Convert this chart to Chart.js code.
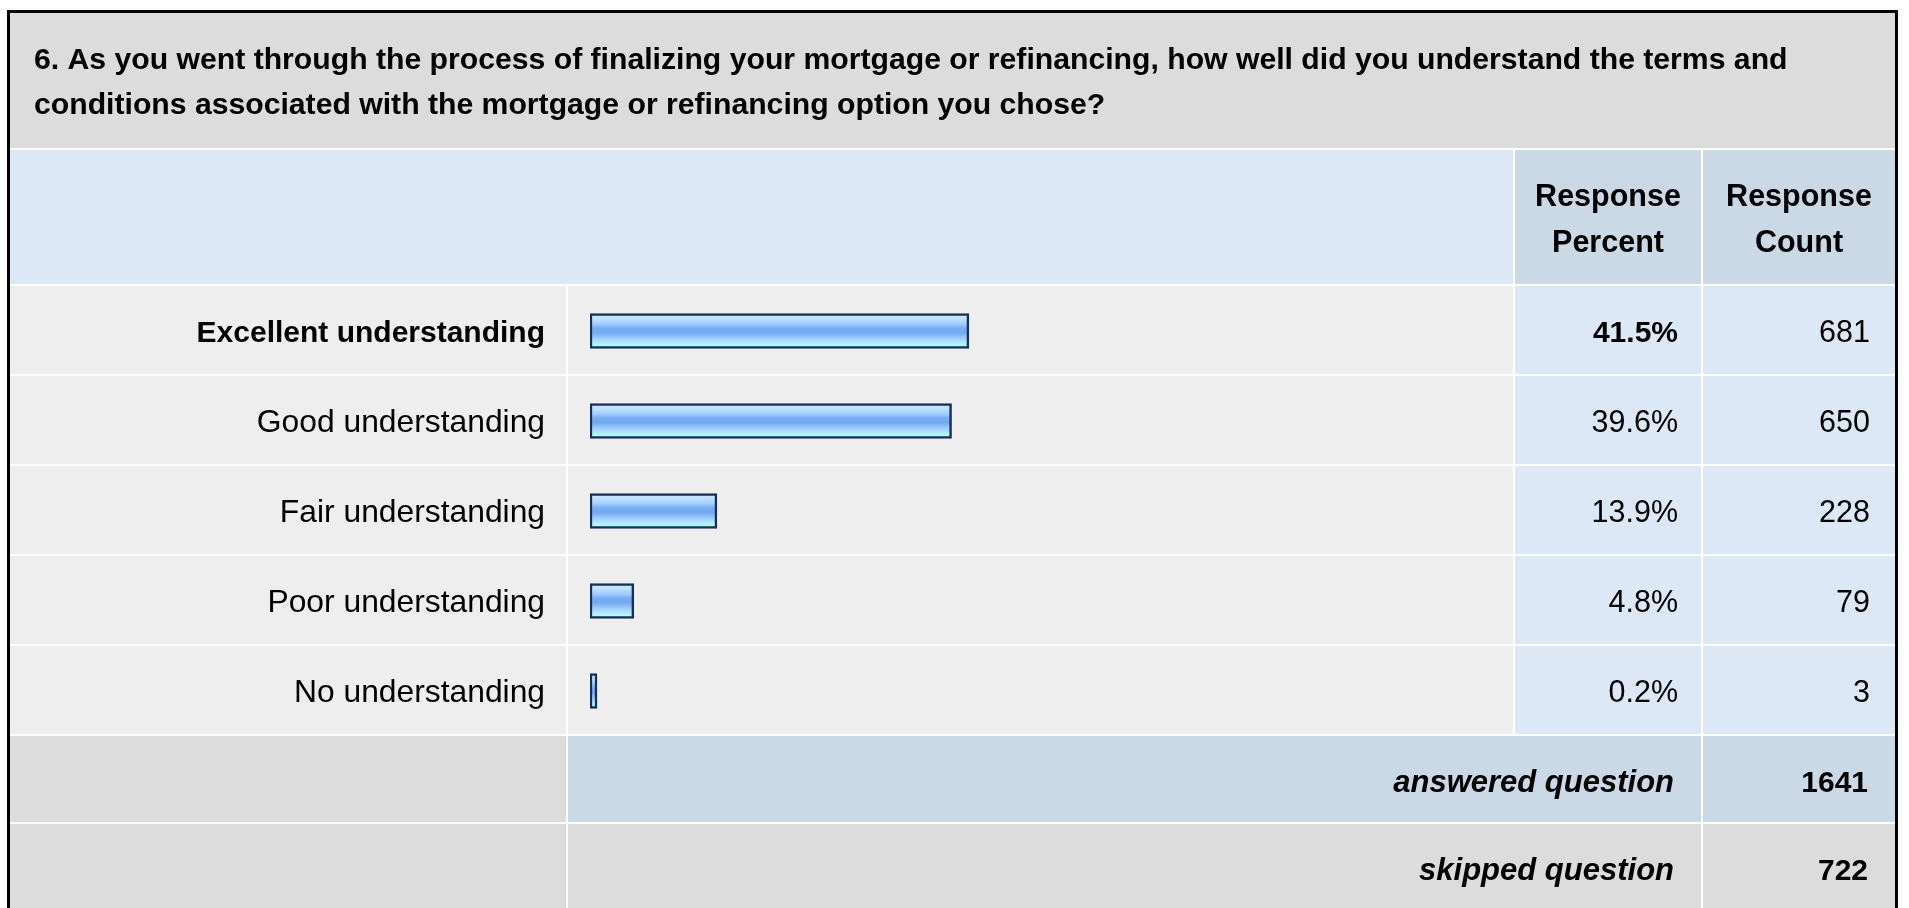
<!DOCTYPE html>
<html>
<head>
<meta charset="utf-8">
<script src="https://cdn.jsdelivr.net/npm/chart.js@4"></script>
<style>
  html, body { margin: 0; padding: 0; background: #ffffff; }
  canvas { display: block; }
</style>
</head>
<body>
<canvas id="c" width="1909" height="908"></canvas>
<script>
// ---- data ----
const titleLines = [
  '6. As you went through the process of finalizing your mortgage or refinancing, how well did you understand the terms and',
  'conditions associated with the mortgage or refinancing option you chose?'
];
const headerPercent = ['Response', 'Percent'];
const headerCount = ['Response', 'Count'];
const categories = ['Excellent understanding', 'Good understanding', 'Fair understanding', 'Poor understanding', 'No understanding'];
const percents = [41.5, 39.6, 13.9, 4.8, 0.2];
const counts = [681, 650, 228, 79, 3];
const answeredLabel = 'answered question';
const skippedLabel = 'skipped question';
const answeredCount = 1641;
const skippedCount = 722;

const FONT = '"Liberation Sans", Arial, Helvetica, sans-serif';

function txt(ctx, s, x, y, font, align) {
  ctx.save();
  ctx.font = font;
  ctx.textAlign = align;
  ctx.textBaseline = 'alphabetic';
  ctx.fillStyle = '#000000';
  ctx.fillText(s, x, y);
  ctx.restore();
}

const ROW_TOP = 286, ROW_STEP = 90, ROW_H = 88;
const X_L = 10, X_LBL_END = 566, X_BAR = 568, X_PCT = 1515, X_CNT = 1703, X_R = 1895;

const tablePlugin = {
  id: 'tablePlugin',
  beforeDraw(chart) {
    const ctx = chart.ctx;
    ctx.save();
    ctx.fillStyle = '#ffffff';
    ctx.fillRect(0, 0, chart.width, chart.height);
    // title band
    ctx.fillStyle = '#dcdcdc';
    ctx.fillRect(X_L, 13, X_R - X_L, 135);
    // header band
    ctx.fillStyle = '#dce8f5';
    ctx.fillRect(X_L, 150, X_PCT - 2 - X_L, 134);
    ctx.fillStyle = '#cbd8e6';
    ctx.fillRect(X_PCT, 150, X_CNT - 2 - X_PCT, 134);
    ctx.fillRect(X_CNT, 150, X_R - X_CNT, 134);
    // response rows
    for (let i = 0; i < categories.length; i++) {
      const y = ROW_TOP + ROW_STEP * i;
      ctx.fillStyle = '#eeeeee';
      ctx.fillRect(X_L, y, X_LBL_END - X_L, ROW_H);
      ctx.fillRect(X_BAR, y, X_PCT - 2 - X_BAR, ROW_H);
      ctx.fillStyle = '#dce8f5';
      ctx.fillRect(X_PCT, y, X_CNT - 2 - X_PCT, ROW_H);
      ctx.fillRect(X_CNT, y, X_R - X_CNT, ROW_H);
    }
    // answered row
    let y = ROW_TOP + ROW_STEP * categories.length;
    ctx.fillStyle = '#dcdcdc';
    ctx.fillRect(X_L, y, X_LBL_END - X_L, ROW_H - 2);
    ctx.fillStyle = '#cbd8e6';
    ctx.fillRect(X_BAR, y, X_CNT - 2 - X_BAR, ROW_H - 2);
    ctx.fillRect(X_CNT, y, X_R - X_CNT, ROW_H - 2);
    // skipped row
    y += ROW_STEP - 2;
    ctx.fillStyle = '#dcdcdc';
    ctx.fillRect(X_L, y, X_LBL_END - X_L, 908 - y);
    ctx.fillRect(X_BAR, y, X_CNT - 2 - X_BAR, 908 - y);
    ctx.fillRect(X_CNT, y, X_R - X_CNT, 908 - y);
    // outer border
    ctx.fillStyle = '#000000';
    ctx.fillRect(7, 10, 3, 898);
    ctx.fillRect(7, 10, X_R + 3 - 7, 3);
    ctx.fillRect(X_R, 10, 3, 898);
    ctx.restore();
  },
  afterDraw(chart) {
    const ctx = chart.ctx;
    // title: font size chosen so the first line spans the same width as the original
    ctx.save();
    ctx.font = 'bold 100px ' + FONT;
    const tSize = 100 * 1754 / ctx.measureText(titleLines[0]).width;
    ctx.restore();
    const tf = 'bold ' + tSize.toFixed(2) + 'px ' + FONT;
    txt(ctx, titleLines[0], 34, 69, tf, 'left');
    txt(ctx, titleLines[1], 34, 114, tf, 'left');
    // headers
    const hf = 'bold 30.5px ' + FONT;
    txt(ctx, headerPercent[0], 1608, 206, hf, 'center');
    txt(ctx, headerPercent[1], 1608, 252, hf, 'center');
    txt(ctx, headerCount[0], 1799, 206, hf, 'center');
    txt(ctx, headerCount[1], 1799, 252, hf, 'center');
    // rows
    const maxIdx = percents.indexOf(Math.max(...percents));
    for (let i = 0; i < categories.length; i++) {
      const base = ROW_TOP + ROW_STEP * i + 44 + 12;
      const isMax = i === maxIdx;
      txt(ctx, categories[i], 545, base, (isMax ? 'bold 30px ' : '31.8px ') + FONT, 'right');
      txt(ctx, percents[i].toFixed(1) + '%', 1678, base, (isMax ? 'bold 30px ' : '30.5px ') + FONT, 'right');
      txt(ctx, String(counts[i]), 1870, base, '30.5px ' + FONT, 'right');
    }
    let base = ROW_TOP + ROW_STEP * categories.length + 44 + 12;
    txt(ctx, answeredLabel, 1674, base, 'italic bold 31px ' + FONT, 'right');
    txt(ctx, String(answeredCount), 1868, base, 'bold 30px ' + FONT, 'right');
    base += ROW_STEP - 2;
    txt(ctx, skippedLabel, 1674, base, 'italic bold 31px ' + FONT, 'right');
    txt(ctx, String(skippedCount), 1868, base, 'bold 30px ' + FONT, 'right');
  }
};

function barGradient(c) {
  const chart = c.chart;
  const { ctx, chartArea } = chart;
  if (!chartArea || !chart.scales.y) return '#8cc0f8';
  const yc = chart.scales.y.getPixelForValue(c.dataIndex);
  const h = 35;
  const g = ctx.createLinearGradient(0, yc - h / 2, 0, yc + h / 2);
  g.addColorStop(0.00, '#d2ebff');
  g.addColorStop(0.15, '#bfe0ff');
  g.addColorStop(0.30, '#a0ccff');
  g.addColorStop(0.42, '#78adf2');
  g.addColorStop(0.55, '#72a9ef');
  g.addColorStop(0.68, '#98c6fc');
  g.addColorStop(0.82, '#b3e3ff');
  g.addColorStop(0.90, '#acfbff');
  g.addColorStop(1.00, '#aaffff');
  return g;
}

new Chart(document.getElementById('c'), {
  type: 'bar',
  data: {
    labels: categories,
    datasets: [{
      data: percents,
      backgroundColor: barGradient,
      borderColor: '#182f55',
      borderWidth: 2.5,
      borderSkipped: false,
      barThickness: 35,
      minBarLength: 7
    }]
  },
  options: {
    indexAxis: 'y',
    responsive: false,
    devicePixelRatio: 1,
    animation: false,
    layout: { padding: { left: 590, right: 1909 - 1503, top: 286, bottom: 908 - 736 } },
    scales: {
      x: { display: false, min: 0, max: 100 },
      y: { display: false }
    },
    plugins: { legend: { display: false }, tooltip: { enabled: false } }
  },
  plugins: [tablePlugin]
});
</script>
</body>
</html>
